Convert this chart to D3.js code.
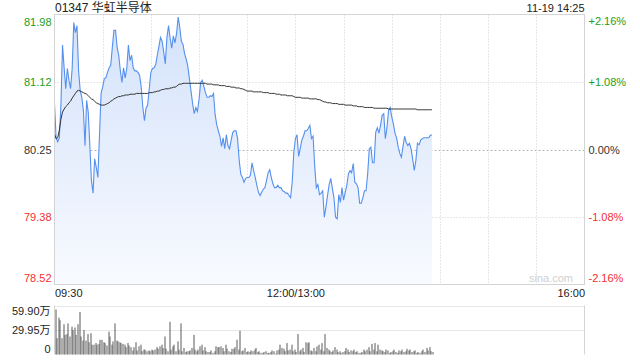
<!DOCTYPE html>
<html><head><meta charset="utf-8">
<script src="https://cdn.jsdelivr.net/npm/d3@7"></script>
<style>
html,body{margin:0;padding:0;background:#fff;}
svg{display:block;font-family:"Liberation Sans",Arial,"Noto Sans CJK SC",sans-serif;}
</style></head>
<body>
<svg id="chart" width="640" height="360"></svg>
<script>
const title = "01347 华虹半导体";
const stamp = "11-19 14:25";
const prevClose = 80.25;
const priceTickLabels = ["81.98","81.12","80.25","79.38","78.52"];
const pctTickLabels = ["+2.16%","+1.08%","0.00%","-1.08%","-2.16%"];
const pctTickValues = [2.16,1.08,0,-1.08,-2.16];
const timeTickLabels = ["09:30","12:00/13:00","16:00"];
const timeTickMinutes = [0,150,330];
const volTickLabels = ["59.90万","29.95万","0"];
const volTickValues = [59.90,29.95,0];

const price = [
80.84,80.40,80.35,80.40,80.82,81.59,81.30,81.03,81.29,81.14,
81.03,81.29,81.88,81.75,81.84,81.26,81.01,80.92,80.75,80.30,
80.88,80.73,80.30,79.85,79.69,80.13,80.02,79.89,80.43,80.97,
81.05,81.16,81.17,81.24,81.30,81.33,81.56,81.78,81.78,81.56,
81.46,81.26,81.11,81.30,81.17,81.29,81.59,81.39,81.46,81.30,
81.26,81.26,81.24,81.20,81.05,80.79,80.62,80.78,80.82,81.03,
81.24,81.29,81.30,81.34,81.46,81.57,81.69,81.64,81.50,81.35,
81.69,81.84,81.68,81.55,81.71,81.62,81.74,81.95,81.82,81.64,
81.60,81.48,81.41,81.32,81.16,81.00,80.84,80.71,80.79,80.74,
80.89,81.11,81.14,81.06,80.98,80.92,80.92,80.94,80.93,80.97,
80.70,80.57,80.49,80.42,80.29,80.40,80.26,80.44,80.30,80.26,
80.37,80.47,80.49,80.49,80.39,80.11,79.93,79.89,79.83,79.88,
79.89,79.89,79.92,80.08,79.98,79.89,79.79,79.70,79.66,79.70,
79.74,79.76,79.85,79.95,79.99,79.89,79.81,79.76,79.76,79.79,
79.76,79.76,79.72,79.71,79.69,79.69,79.66,79.63,79.83,80.21,
80.39,80.44,80.16,80.26,80.37,80.42,80.49,80.49,80.52,80.56,
80.39,80.42,80.04,79.76,79.80,79.67,79.69,79.72,79.38,79.51,
79.66,79.80,79.88,79.75,79.63,79.38,79.36,79.67,79.57,79.76,
79.60,79.70,79.79,79.94,79.98,79.95,80.07,79.83,79.81,79.76,
79.56,79.56,79.63,79.72,79.72,79.94,80.26,80.28,80.08,80.08,
80.47,80.53,80.46,80.56,80.69,80.71,80.39,80.53,80.75,80.79,
80.67,80.58,80.46,80.40,80.28,80.20,80.15,80.29,80.42,80.34,
80.30,80.33,80.26,80.13,79.98,80.11,80.33,80.31,80.37,80.39,
80.40,80.40,80.40,80.40,80.43,80.44];

const avgPrice = [
80.45,80.39,80.40,80.50,80.64,80.73,80.77,80.80,80.82,80.85,
80.87,80.91,80.94,80.97,81.00,81.01,81.00,80.99,80.98,80.97,
80.96,80.94,80.92,80.90,80.89,80.87,80.85,80.84,80.83,80.82,
80.82,80.82,80.83,80.84,80.85,80.87,80.88,80.90,80.91,80.92,
80.93,80.93,80.94,80.94,80.95,80.95,80.95,80.96,80.96,80.96,
80.96,80.97,80.97,80.97,80.97,80.97,80.97,80.97,80.97,80.98,
80.98,80.98,80.99,80.99,81.00,81.00,81.01,81.02,81.02,81.03,
81.03,81.03,81.04,81.04,81.05,81.05,81.06,81.08,81.09,81.09,
81.10,81.10,81.10,81.10,81.10,81.10,81.10,81.10,81.10,81.10,
81.10,81.10,81.10,81.10,81.10,81.09,81.09,81.09,81.09,81.08,
81.08,81.08,81.08,81.07,81.07,81.07,81.07,81.06,81.06,81.06,
81.05,81.05,81.05,81.04,81.04,81.04,81.03,81.03,81.02,81.01,
81.00,81.00,81.00,81.00,80.99,80.99,80.99,80.99,80.99,80.99,
80.98,80.98,80.98,80.98,80.97,80.97,80.97,80.97,80.96,80.96,
80.96,80.95,80.95,80.95,80.95,80.94,80.94,80.94,80.94,80.93,
80.92,80.92,80.92,80.92,80.91,80.91,80.91,80.91,80.91,80.90,
80.90,80.90,80.90,80.90,80.89,80.89,80.88,80.87,80.86,80.86,
80.85,80.85,80.85,80.84,80.84,80.84,80.84,80.83,80.83,80.83,
80.83,80.82,80.82,80.82,80.82,80.82,80.81,80.81,80.81,80.80,
80.80,80.80,80.80,80.79,80.79,80.79,80.79,80.79,80.79,80.78,
80.78,80.78,80.78,80.78,80.78,80.78,80.78,80.78,80.77,80.77,
80.77,80.77,80.77,80.77,80.77,80.77,80.77,80.77,80.77,80.77,
80.77,80.77,80.77,80.77,80.77,80.77,80.76,80.76,80.76,80.76,
80.76,80.76,80.76,80.76,80.76,80.76];

// volume in 万 shares per minute
const volume = [
55,20,45,42,20,37,24,25,38,22,
34,30,33,24,37,52,22,17,30,17,
25,15,26,12,12,14,12,13,18,18,
15,14,11,28,22,12,16,38,17,16,
15,14,13,12,9,14,11,9,5,9,
15,5,10,12,4,6,6,4,5,4,
6,5,6,9,7,10,12,8,22,7,
4,40,6,10,12,4,16,6,38,4,
8,3,4,4,5,8,24,6,4,6,
10,12,5,9,4,3,3,5,2,4,
10,9,9,10,8,4,12,7,4,3,
7,7,9,18,6,29,4,5,8,3,
4,3,5,4,6,8,3,4,2,2,
3,4,2,2,3,5,4,1,5,6,
12,8,7,4,14,5,6,12,4,6,
3,25,4,6,8,3,15,14,15,5,
4,8,4,10,12,6,14,4,25,8,
6,4,3,5,9,6,3,4,2,3,
4,8,6,3,5,4,6,3,4,2,
2,3,6,4,6,9,4,13,6,14,
4,12,6,5,4,3,6,5,2,3,
4,6,3,2,5,4,6,3,4,7,
5,6,3,4,5,2,3,2,4,6,
3,8,5,9,4,3];

const svg = d3.select("#chart");
const L = 54.5, R = 584.5, T = 14.5, B = 284.5;
const VT = 305.5, VB = 354.5;

const x = d3.scaleLinear().domain([0,330]).range([L,R]);
const pMax = prevClose*(1+0.0216), pMin = prevClose*(1-0.0216);
const y = d3.scaleLinear().domain([pMin,pMax]).range([B,T]);
const yv = d3.scaleLinear().domain([0,59.90]).range([VB,VT]);

const colorOf = v => v > prevClose + 1e-6 ? "#1a9e1a" : (v < prevClose - 1e-6 ? "#f23030" : "#333");

// gradient
const defs = svg.append("defs");
const grad = defs.append("linearGradient").attr("id","fillGrad")
  .attr("gradientUnits","userSpaceOnUse").attr("x1",0).attr("x2",0).attr("y1",T).attr("y2",B);
grad.append("stop").attr("offset","0%").attr("stop-color","#d3e2fa");
grad.append("stop").attr("offset","100%").attr("stop-color","#f8faff");

// grid: horizontal price
const priceVals = priceTickLabels.map(Number);
svg.append("g").selectAll("line").data(priceVals.slice(1,4)).join("line")
  .attr("x1",L).attr("x2",R)
  .attr("y1",d=>Math.round(y(d))+0.5).attr("y2",d=>Math.round(y(d))+0.5)
  .attr("stroke",(d,i)=> i===1 ? "#b8b8b8" : "#cfcfcf")
  .attr("stroke-dasharray",(d,i)=> i===1 ? "2,2" : "1,2");
// vertical grid every 30 min
const vgrid = d3.range(30,330,30);
svg.append("g").selectAll("line").data(vgrid).join("line")
  .attr("x1",d=>Math.round(x(d))+0.5).attr("x2",d=>Math.round(x(d))+0.5)
  .attr("y1",T).attr("y2",B)
  .attr("stroke","#cfcfcf").attr("stroke-dasharray","1,2");

// area + line
const idx = d3.range(price.length);
svg.append("path").datum(idx)
  .attr("d", d3.area().x(i=>x(i)).y0(B).y1(i=>y(price[i])))
  .attr("fill","url(#fillGrad)");
svg.append("path").datum(idx)
  .attr("d", d3.line().x(i=>x(i)).y(i=>y(price[i])))
  .attr("fill","none").attr("stroke","#5590ee").attr("stroke-width",1.1);
svg.append("path").datum(d3.range(avgPrice.length))
  .attr("d", d3.line().x(i=>x(i)).y(i=>y(avgPrice[i])))
  .attr("fill","none").attr("stroke","#333").attr("stroke-width",1);

// watermark
svg.append("text").attr("x",573).attr("y",282).attr("text-anchor","end")
  .attr("font-size",11).attr("fill","#d0d0d0").text("sina.com");

// frame
svg.append("rect").attr("x",L).attr("y",T).attr("width",R-L).attr("height",B-T)
  .attr("fill","none").attr("stroke","#d4d4d4");

// left price axis
const axL = svg.append("g").attr("transform",`translate(${L-3},0)`)
  .call(d3.axisLeft(y).tickValues(priceVals).tickSize(0).tickPadding(0)
    .tickFormat((d,i)=>priceTickLabels[i]));
axL.select(".domain").remove();
axL.selectAll("text").attr("font-size",11).attr("font-family","\"Liberation Sans\",Arial,sans-serif")
  .attr("fill",d=>colorOf(d))
  .attr("dy",(d,i)=> i===0 ? "0.95em" : (i===4 ? "-0.25em" : "0.32em"));

// right pct axis
const pctScaleVals = pctTickValues.map(p=>prevClose*(1+p/100));
const axR = svg.append("g").attr("transform",`translate(${R+4},0)`)
  .call(d3.axisRight(y).tickValues(pctScaleVals).tickSize(0).tickPadding(0)
    .tickFormat((d,i)=>pctTickLabels[i]));
axR.select(".domain").remove();
axR.selectAll("text").attr("font-size",11).attr("font-family","\"Liberation Sans\",Arial,sans-serif")
  .attr("fill",(d,i)=> pctTickValues[i]>0 ? "#1a9e1a" : (pctTickValues[i]<0 ? "#f23030" : "#333"))
  .attr("dy",(d,i)=> i===0 ? "0.95em" : (i===4 ? "-0.25em" : "0.32em"));

// time axis
const axT = svg.append("g").attr("transform",`translate(0,${B+2})`)
  .call(d3.axisBottom(x).tickValues(timeTickMinutes).tickSize(0).tickPadding(0)
    .tickFormat((d,i)=>timeTickLabels[i]));
axT.select(".domain").remove();
axT.selectAll("text").attr("font-size",11).attr("fill","#222")
  .attr("font-family","\"Liberation Sans\",Arial,sans-serif")
  .attr("dy","0.95em")
  .attr("text-anchor",(d,i)=> i===0 ? "start" : (i===2 ? "end" : "middle"));

// title & stamp
svg.append("text").attr("x",55).attr("y",12).attr("font-size",12).attr("fill","#222").text(title);
svg.append("text").attr("x",R).attr("y",12).attr("font-size",11).attr("fill","#222")
  .attr("text-anchor","end").text(stamp);

// volume panel grid
svg.append("g").selectAll("line").data(volTickValues.slice(0,2)).join("line")
  .attr("x1",L).attr("x2",R)
  .attr("y1",d=>Math.round(yv(d))+0.5).attr("y2",d=>Math.round(yv(d))+0.5)
  .attr("stroke","#cfcfcf").attr("stroke-dasharray","1,1");
svg.append("line").attr("x1",L).attr("x2",L).attr("y1",VT).attr("y2",VB).attr("stroke","#d4d4d4");
svg.append("line").attr("x1",R).attr("x2",R).attr("y1",VT).attr("y2",VB).attr("stroke","#d4d4d4");

// volume bars
svg.append("g").selectAll("rect").data(volume).join("rect")
  .attr("x",(d,i)=>Math.round(x(i))+0.5)
  .attr("width",1)
  .attr("y",d=>yv(d))
  .attr("height",d=>VB-yv(d))
  .attr("fill","#5a5a5a");

// volume axis
const axV = svg.append("g").attr("transform",`translate(${L-4},0)`)
  .call(d3.axisLeft(yv).tickValues(volTickValues).tickSize(0).tickPadding(0)
    .tickFormat((d,i)=>volTickLabels[i]));
axV.select(".domain").remove();
axV.selectAll("text").attr("font-size",11).attr("fill","#222")
  .attr("font-family","\"Liberation Sans\",Arial,\"Noto Sans CJK SC\",sans-serif")
  .attr("dy",(d,i)=> i===0 ? "0.85em" : (i===2 ? "-0.2em" : "0.32em"));
</script>
</body></html>
